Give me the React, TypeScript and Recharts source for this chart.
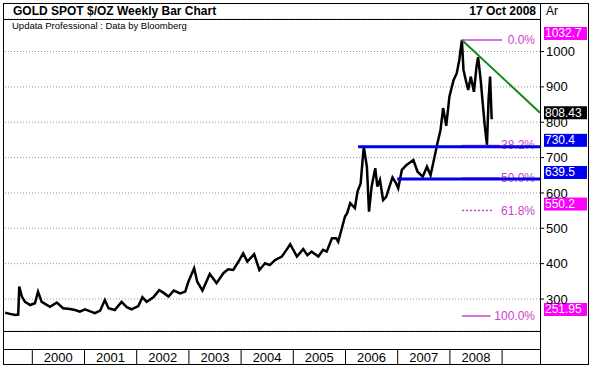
import React from "react";
import { CartesianGrid, ComposedChart, Line, ReferenceLine, XAxis, YAxis } from "recharts";

// weekly gold closes (decimal years)
const weekYear = [
  1999.48, 1999.57, 1999.67, 1999.73, 1999.75, 1999.8, 1999.86, 1999.96, 2000.05, 2000.11,
  2000.18, 2000.26, 2000.34, 2000.47, 2000.59, 2000.72, 2000.82, 2000.91, 2001.01, 2001.11,
  2001.2, 2001.3, 2001.39, 2001.46, 2001.58, 2001.71, 2001.81, 2001.9, 2002.03, 2002.11,
  2002.19, 2002.32, 2002.43, 2002.51, 2002.61, 2002.71, 2002.83, 2002.93, 2002.99, 2003.1,
  2003.16, 2003.26, 2003.4, 2003.53, 2003.66, 2003.75, 2003.85, 2003.95, 2004.04, 2004.12,
  2004.25, 2004.35, 2004.46, 2004.55, 2004.65, 2004.78, 2004.87, 2004.94, 2005.07, 2005.19,
  2005.27, 2005.35, 2005.48, 2005.57, 2005.64, 2005.74, 2005.82, 2005.86, 2005.93, 2005.99,
  2006.03, 2006.09, 2006.18, 2006.23, 2006.29, 2006.35, 2006.41, 2006.45, 2006.5, 2006.57,
  2006.61, 2006.66, 2006.72, 2006.78, 2006.82, 2006.9, 2006.97, 2007.01, 2007.08, 2007.17,
  2007.3, 2007.38, 2007.48, 2007.56, 2007.63, 2007.7, 2007.76, 2007.82, 2007.87, 2007.93,
  2007.99, 2008.07, 2008.13, 2008.18, 2008.23, 2008.26, 2008.31, 2008.35, 2008.4, 2008.46,
  2008.51, 2008.54, 2008.59, 2008.64, 2008.67, 2008.71, 2008.74, 2008.77, 2008.8,
];
const goldPrice = [
  261, 258, 255, 256, 335, 307, 292, 283, 288, 321,
  292, 285, 278, 290, 274, 272, 269, 264, 271, 265,
  260, 267, 297, 274, 269, 292, 277, 271, 280, 305,
  292, 305, 325, 318, 307, 324, 316, 321, 349, 387,
  349, 324, 371, 345, 373, 384, 382, 406, 429, 406,
  427, 382, 401, 396, 410, 420, 439, 455, 420, 441,
  424, 434, 420, 439, 434, 472, 472, 462, 500, 533,
  542, 571, 557, 604, 627, 731, 674, 547, 618, 670,
  618, 637, 580, 589, 608, 644, 627, 613, 665, 679,
  693, 660, 646, 674, 650, 698, 740, 778, 840, 790,
  872, 919, 938, 976, 1032.7, 948, 915, 891, 929, 886,
  957, 984, 919, 835, 787, 736, 863, 929, 808.43,
];

const priceTicks = [300, 400, 500, 600, 700, 800, 900, 1000];
const yearTicks = [2000, 2001, 2002, 2003, 2004, 2005, 2006, 2007, 2008, 2009];
const yearLabels = ["2000", "2001", "2002", "2003", "2004", "2005", "2006", "2007", "2008", ""];

const fibHigh = 1032.7;
const fibLow = 251.95;
const fibRatios = [0, 0.382, 0.5, 0.618, 1];
const fibLabels = ["0.0%", "38.2%", "50.0%", "61.8%", "100.0%"];
const fibFrom = 2008.23;
const fibTo = [2009.0, 2008.95, 2008.95, 2008.83, 2008.78];
const fibDashed = [false, false, false, true, false];

const supportLevels = [730.4, 639.5];
const supportFrom = [2006.24, 2006.99];

const trendX = [2008.23, 2009.726];
const trendY = [1032.7, 827];

const boxValues = [1032.7, 808.43, 730.4, 639.5, 550.2, 251.95];
const boxLabels = ["1032.7", "808.43", "730.4", "639.5", "550.2", "251.95"];
const boxColors = ["#ff00ff", "#000000", "#0000f0", "#0000f0", "#ff00ff", "#ff00ff"];

const chartData = weekYear.map((t, i) => ({ t, price: goldPrice[i] }));
const fibValues = fibRatios.map((r) => +(fibHigh - r * (fibHigh - fibLow)).toFixed(2));

const FONT = "Arial, 'Liberation Sans', sans-serif";
const X_MAX = 2009.726;

const YearTick = (props: any) => {
  const { x, y, payload } = props;
  const label = yearLabels[yearTicks.indexOf(payload.value)];
  return (
    <g>
      <line x1={x} x2={x} y1={y + 18} y2={y + 33} stroke="#000" />
      <text x={x + 26} y={y + 31} textAnchor="middle" fontSize={13} fontFamily={FONT} fill="#000">
        {label}
      </text>
    </g>
  );
};

const fibText = (text: string) => (props: any) => {
  const vb = props.viewBox;
  return (
    <text x={vb.x + vb.width - 5} y={vb.y + 4} textAnchor="end" fontSize={12} fontFamily={FONT} fill="#cc44cc">
      {text}
    </text>
  );
};

const valueBox = (text: string, color: string) => (props: any) => {
  const vb = props.viewBox;
  const x = vb.x + vb.width + 4;
  return (
    <g>
      <rect x={x} y={vb.y - 13} width={43} height={13} fill={color} />
      <text x={x + 1} y={vb.y - 2.5} fontSize={12} fontFamily={FONT} fill="#fff">
        {text}
      </text>
    </g>
  );
};

const line = (s: React.CSSProperties): React.CSSProperties => ({ position: "absolute", background: "#000", ...s });

export default function App() {
  return (
    <div style={{ position: "absolute", left: 0, top: 0, width: 591, height: 368, background: "#fff", fontFamily: FONT }}>
      <ComposedChart width={591} height={368} data={chartData} margin={{ top: 19, right: 2, bottom: 3, left: 5 }}>
        <CartesianGrid horizontal vertical={false} stroke="#999" strokeDasharray="1 2" />
        <XAxis
          dataKey="t"
          type="number"
          domain={[1999.477, X_MAX]}
          allowDataOverflow
          ticks={yearTicks}
          interval={0}
          tick={<YearTick />}
          tickLine={false}
          axisLine={false}
          tickSize={0}
          tickMargin={0}
          height={34}
        />
        <YAxis
          orientation="right"
          type="number"
          domain={[209.5, 1092]}
          allowDataOverflow
          ticks={priceTicks}
          width={49}
          axisLine={false}
          tickSize={4}
          tickMargin={2}
          tickLine={{ stroke: "#000" }}
          tick={{ fontSize: 13, fill: "#000", fontFamily: FONT, textAnchor: "start" }}
        />
        <Line dataKey="price" type="linear" stroke="#000" strokeWidth={2.5} dot={false} isAnimationActive={false} />
        {fibValues.map((v, i) => (
          <ReferenceLine
            key={`fs${i}`}
            segment={[{ x: fibFrom, y: v }, { x: fibTo[i], y: v }]}
            stroke="#cc44cc"
            strokeWidth={1.5}
            strokeDasharray={fibDashed[i] ? "2 2" : undefined}
          />
        ))}
        {fibValues.map((v, i) => (
          <ReferenceLine key={`ft${i}`} y={v} stroke="none" label={fibText(fibLabels[i])} />
        ))}
        {supportLevels.map((v, i) => (
          <ReferenceLine
            key={`sl${i}`}
            segment={[{ x: supportFrom[i], y: v }, { x: X_MAX, y: v }]}
            stroke="#0000e6"
            strokeWidth={3}
          />
        ))}
        <ReferenceLine
          segment={[{ x: trendX[0], y: trendY[0] }, { x: trendX[1], y: trendY[1] }]}
          stroke="#108a10"
          strokeWidth={2}
        />
        {boxValues.map((v, i) => (
          <ReferenceLine key={`bx${i}`} y={v} stroke="none" label={valueBox(boxLabels[i], boxColors[i])} />
        ))}
      </ComposedChart>

      <div style={{ position: "absolute", left: 3, top: 3, width: 586, height: 362, border: "1px solid #000", boxSizing: "border-box" }} />
      <div style={line({ left: 3, top: 19, width: 537, height: 1 })} />
      <div style={line({ left: 540, top: 3, width: 1, height: 362 })} />
      <div style={line({ left: 3, top: 331, width: 537, height: 1 })} />
      <div style={line({ left: 3, top: 349, width: 537, height: 1 })} />

      <div style={{ position: "absolute", left: 13, top: 4, fontSize: 12, fontWeight: "bold", lineHeight: "15px" }}>
        GOLD SPOT $/OZ Weekly Bar Chart
      </div>
      <div style={{ position: "absolute", right: 591 - 536, top: 4, fontSize: 12, fontWeight: "bold", lineHeight: "15px" }}>
        17 Oct 2008
      </div>
      <div style={{ position: "absolute", left: 546, top: 4, fontSize: 12, lineHeight: "15px" }}>Ar</div>
      <div style={{ position: "absolute", left: 12, top: 20, fontSize: 9.5, lineHeight: "12px" }}>
        Updata Professional : Data by Bloomberg
      </div>
    </div>
  );
}
